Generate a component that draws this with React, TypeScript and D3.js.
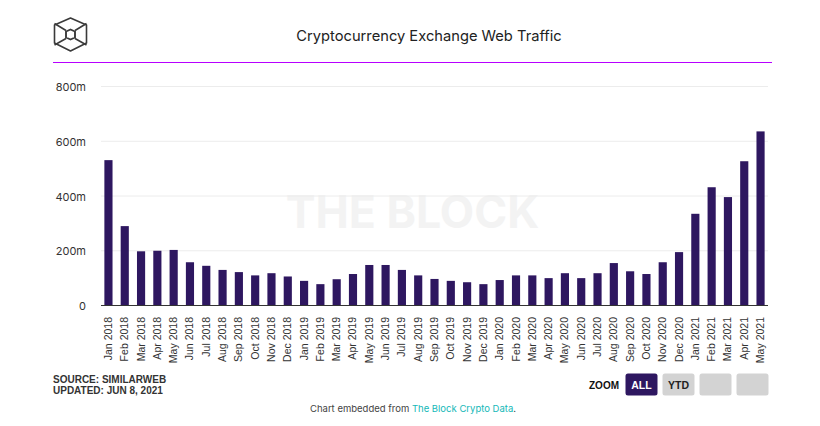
import React from "react";
import * as d3 from "d3";

const months = ["Jan","Feb","Mar","Apr","May","Jun","Jul","Aug","Sep","Oct","Nov","Dec"];
const categories: string[] = [];
for (const y of [2018, 2019, 2020, 2021]) for (const m of months) {
  if (y === 2021 && months.indexOf(m) > 4) continue;
  categories.push(`${m} ${y}`);
}
const traffic = [531,290,198,200,203,158,145,130,122,110,118,106,90,78,96,115,148,148,130,110,97,90,85,78,93,110,110,100,118,100,118,155,125,115,158,195,335,432,396,527,636];
const yTicks = [0,200,400,600,800];
const yLabels = ["0","200m","400m","600m","800m"];
const W = 820, H = 426;
const x = d3.scaleBand<string>().domain(categories).range([100.3,768.7]).paddingInner(0.5).paddingOuter(0.25);
const y = d3.scaleLinear().domain([0,800]).range([305.5,86.5]);
const sans = "Inter, 'Liberation Sans', sans-serif";
const arial = "'Liberation Sans', Arial, sans-serif";

const Button = ({bx,label,active}:{bx:number,label?:string,active?:boolean}) => (
  <g>
    <rect x={bx} y={373.5} width={32} height={22} rx={2.5} fill={active?"#2e1760":"#d3d3d3"} />
    {label && <text x={bx+16} y={388.5} textAnchor="middle" fontFamily={arial} fontWeight={700} fontSize={10.5} fill={active?"#fff":"#222"}>{label}</text>}
  </g>
);

export default function App() {
  return (
    <svg width={W} height={H} style={{position:"absolute",left:0,top:0,background:"#fff"}}>
      <g fill="none" stroke="#3a3a3a" strokeWidth={1.6} strokeLinejoin="round">
        <path d="M70.5 18 L86.5 25 L86.5 43 L70.5 51 L54.5 43 L54.5 25 Z" />
        <path d="M70.5 29.5 L75 31.5 L75 37.5 L70.5 39.5 L66 37.5 L66 31.5 Z" strokeWidth={1.9} />
        <path d="M54.5 23.5 L66 30.5 M86.5 23.5 L75 30.5 M54.5 45 L66 38.5 M86.5 45 L75 38.5" />
      </g>
      <text x={429} y={41} textAnchor="middle" fontFamily={sans} fontSize={14.7} fill="#222">Cryptocurrency Exchange Web Traffic</text>
      <line x1={53} x2={772} y1={62.5} y2={62.5} stroke="#b700ff" strokeWidth={1.2} />
      <text x={412.5} y={227.5} textAnchor="middle" fontFamily={sans} fontWeight={700} fontSize={44.6} fill="#f3f3f3">THE BLOCK</text>
      {yTicks.filter(t=>t>0).map(t=><line key={t} x1={101} x2={768} y1={y(t)} y2={y(t)} stroke="#ececec" />)}
      {yTicks.map((t,i)=><text key={t} x={86} y={y(t)+4.5} textAnchor="end" fontFamily={sans} fontSize={11} fill="#333">{yLabels[i]}</text>)}
      {categories.map((c,i)=><rect key={c} x={x(c)} y={y(traffic[i])} width={x.bandwidth()} height={y(0)-y(traffic[i])} fill="#2e1760" />)}
      <line x1={101} x2={768} y1={305.5} y2={305.5} stroke="#333" />
      {categories.map(c=>{
        const cx = x(c)!+x.bandwidth()/2;
        return <text key={c} transform={`translate(${cx+3.5},317) rotate(-90)`} textAnchor="end" fontFamily={arial} fontSize={10.5} fill="#333">{c}</text>;
      })}
      <text x={53} y={383} fontFamily={arial} fontWeight={700} fontSize={10} fill="#333">SOURCE: SIMILARWEB</text>
      <text x={53} y={394} fontFamily={arial} fontWeight={700} fontSize={10} fill="#333">UPDATED: JUN 8, 2021</text>
      <text x={589} y={388.5} fontFamily={arial} fontWeight={700} fontSize={10} fill="#111">ZOOM</text>
      <Button bx={625.5} label="ALL" active />
      <Button bx={662.5} label="YTD" />
      <Button bx={699.5} />
      <Button bx={736.5} />
      <text x={413} y={412} textAnchor="middle" fontFamily={sans} fontSize={9.5} fill="#444">Chart embedded from <tspan fill="#14b8b8">The Block Crypto Data</tspan>.</text>
    </svg>
  );
}
